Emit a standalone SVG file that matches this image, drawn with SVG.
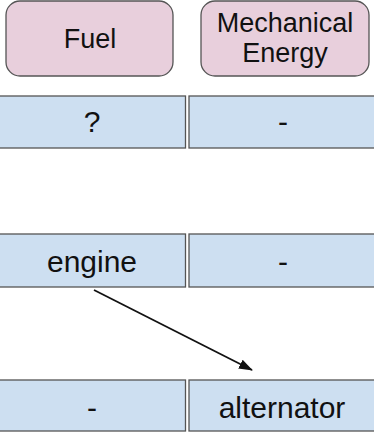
<svg xmlns="http://www.w3.org/2000/svg" width="374" height="433" viewBox="0 0 374 433">
  <style>
    .head { fill: #e8cfdc; stroke: #555; stroke-width: 1.3; }
    .cell { fill: #cddff1; stroke: #555; stroke-width: 1.3; }
    text { font-family: "Liberation Sans", Arial, sans-serif; fill: #111; text-anchor: middle; }
    .ht { font-size: 27px; }
    .ct { font-size: 30px; }
    .edge { stroke: #111; stroke-width: 1.8; fill: none; }
  </style>
  <defs>
    <marker id="arrow" markerWidth="14" markerHeight="12" refX="13" refY="5" orient="auto" markerUnits="userSpaceOnUse" viewBox="0 0 14 10">
      <path d="M0,0 L14,5 L0,10 Z" fill="#111"/>
    </marker>
  </defs>
  <rect width="374" height="433" fill="#fff"/>

  <g id="fuel">
    <rect class="head" x="6" y="1" width="167" height="75" rx="14"/>
    <text class="ht" x="90" y="48">Fuel</text>
  </g>
  <g id="mechanical-energy">
    <rect class="head" x="201" y="1" width="168" height="75" rx="14"/>
    <text class="ht" x="285" y="32">Mechanical</text>
    <text class="ht" x="285" y="62">Energy</text>
  </g>

  <g id="row1-left">
    <rect class="cell" x="-2" y="96" width="187.5" height="52"/>
    <text class="ct" x="92" y="132">?</text>
  </g>
  <g id="row1-right">
    <rect class="cell" x="189" y="96" width="190" height="52"/>
    <text class="ct" x="283" y="132">-</text>
  </g>

  <g id="row2-left">
    <rect class="cell" x="-2" y="234" width="187.5" height="53"/>
    <text class="ct" x="92" y="272">engine</text>
  </g>
  <g id="row2-right">
    <rect class="cell" x="189" y="234" width="190" height="53"/>
    <text class="ct" x="283" y="272">-</text>
  </g>

  <g id="row3-left">
    <rect class="cell" x="-2" y="380" width="187.5" height="51"/>
    <text class="ct" x="92" y="418">-</text>
  </g>
  <g id="row3-right">
    <rect class="cell" x="189" y="380" width="190" height="51"/>
    <text class="ct" x="282" y="418">alternator</text>
  </g>

  <g id="connectors">
    <line class="edge" x1="94" y1="290" x2="252" y2="370" marker-end="url(#arrow)"/>
  </g>
</svg>
